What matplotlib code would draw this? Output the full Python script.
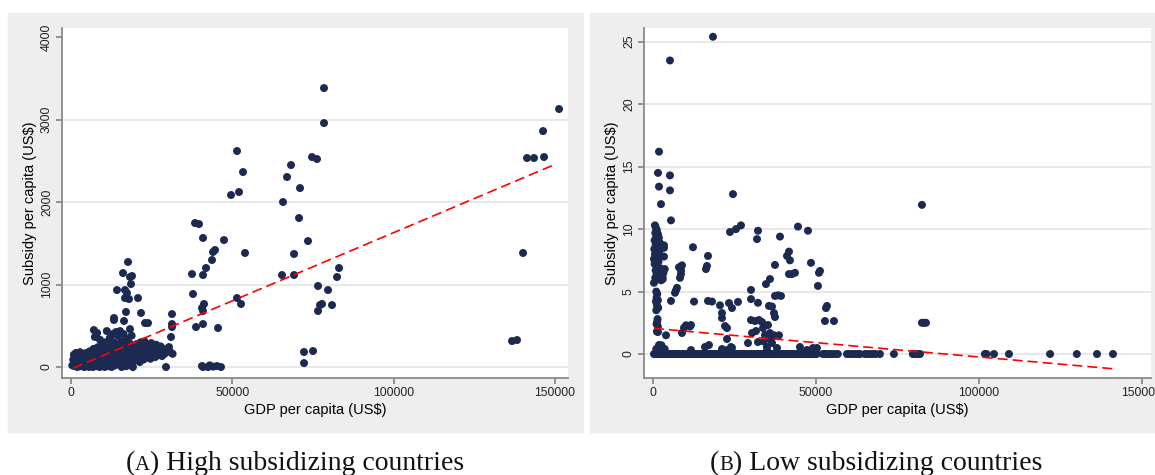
import matplotlib
matplotlib.use('Agg')
import matplotlib.pyplot as plt
from matplotlib.patches import Rectangle

plt.rcParams['font.family'] = ['Liberation Sans', 'DejaVu Sans']

# panel A: high subsidizing countries (GDP per capita, subsidy per capita)
high_cluster = [
    (400, 20), (700, 90), (900, 150), (1100, 10), (1300, 60), (1500, 170), (1700, 120), (1800, 30),
    (2000, 0), (2200, 80), (2400, 140), (2600, 40), (2800, 180), (3000, 10), (3200, 110), (3300, 60),
    (3500, 150), (3700, 20), (3900, 90), (4100, 0), (4200, 130), (4400, 50), (4600, 170), (4800, 100),
    (5000, 20), (5200, 140), (5400, 60), (5600, 0), (5800, 190), (6000, 110), (6200, 30), (6400, 160),
    (6600, 80), (6800, 0), (7000, 220), (7100, 448), (7300, 130), (7500, 50), (7700, 180), (7900, 10),
    (8100, 412), (8100, 100), (8300, 240), (8500, 60), (8700, 150), (8900, 0), (9100, 200), (9300, 90),
    (9500, 30), (9700, 270), (9900, 140), (7400, 364), (9000, 330), (10100, 60), (10300, 190),
    (10500, 0), (10700, 300), (10900, 120), (11100, 436), (11200, 40), (11400, 230), (11600, 150),
    (11800, 10), (12000, 350), (12200, 90), (12400, 260), (12600, 0), (12800, 170), (13000, 400),
    (13100, 60), (13300, 300), (13500, 200), (13700, 20), (13950, 424), (14100, 120), (14300, 250),
    (14500, 380), (14700, 40), (14900, 180), (15190, 436), (15300, 90), (15500, 310), (15700, 0),
    (15900, 220), (16100, 140), (16300, 400), (16500, 50), (16700, 270), (16900, 180), (17100, 10),
    (17300, 340), (17500, 100), (17700, 230), (17900, 30), (18100, 290), (18290, 460), (18400, 150),
    (18600, 60), (18800, 380), (19000, 200), (19200, 0), (19400, 120), (19600, 260), (19800, 80),
    (20100, 180), (20400, 280), (20700, 110), (21000, 220), (21300, 60), (21600, 300), (21900, 160),
    (22200, 240), (22500, 90), (22800, 310), (23100, 200), (23400, 130), (23700, 270), (24000, 180),
    (24300, 230), (24600, 100), (24900, 290), (25200, 160), (25500, 240), (25800, 200), (26100, 120),
    (26400, 270), (26660, 170), (27000, 230), (27400, 150), (27800, 250), (28210, 133), (28600, 220),
    (29000, 160), (29450, 0), (29800, 200), (30380, 242), (31000, 364), (31310, 485), (31310, 521),
    (31310, 642), (30800, 180), (31500, 160),
    (17670, 1273), (16120, 1139), (18290, 1091), (18910, 1103), (18600, 1006), (14260, 933),
    (16740, 933), (17360, 897), (16740, 836), (17980, 824), (20770, 836), (17050, 667), (21700, 655),
    (13330, 594), (13330, 570), (16430, 558), (22940, 533), (23870, 533),
]
high_scatter = [
    (38440, 1745), (39680, 1733), (40920, 1564), (47430, 1539), (49600, 2085), (51460, 2618),
    (52080, 2121), (53320, 2363), (65720, 2000), (66960, 2303), (68200, 2448), (70680, 1806),
    (70990, 2169), (78430, 3381), (78430, 2957), (74710, 2545), (76260, 2521), (73470, 1527),
    (69130, 1370), (69130, 1115), (65410, 1115), (83080, 1200), (82460, 1091), (76570, 982),
    (79670, 933), (80910, 751), (77810, 764), (77190, 751), (76570, 679), (72230, 182), (75020, 194),
    (72230, 48), (136710, 315), (138260, 327), (140120, 1382), (141360, 2533), (143530, 2533),
    (146630, 2545), (146320, 2860), (151280, 3127), (44020, 1394), (44640, 1418), (53940, 1382),
    (43710, 1297), (41850, 1200), (37510, 1127), (40920, 1115), (37820, 885), (41230, 764),
    (40610, 715), (40920, 679), (51460, 836), (52700, 764), (40920, 521), (38750, 485), (45570, 473),
    (40610, 12), (40920, 0), (42470, 0), (44020, 5), (45260, 12), (46500, 0), (43000, 20),
]
fit_high_x = [600, 150300]
fit_high_y = [-15, 2460]

# panel B: low subsidizing countries
low_zero_gdp = [
    300, 700, 1000, 1400, 1800, 2300, 2800, 3300, 3900, 4400, 5000, 5600, 6100, 6700, 7300, 7800,
    8400, 9000, 9600, 10200, 10700, 11300, 11900, 12500, 13100, 13600, 14200, 14800, 15400, 16000,
    16500, 17100, 17700, 18300, 18900, 19400, 20000, 20600, 21200, 21800, 22300, 22900, 23500, 24100,
    24700, 25200, 25800, 26400, 27000, 27600, 28100, 28700, 29300, 29900, 30500, 31000, 31600, 32200,
    32800, 33400, 33900, 34500, 35100, 35700, 36300, 36800, 37400, 38000, 38600, 39200, 39700, 40300,
    40900, 41500, 42100, 42600, 43200, 43800, 44400, 45000, 45500, 46100, 46700, 47300, 47900, 48400,
    49000, 49600, 50200, 52100, 52800, 53500, 54300, 55000, 55800, 56700, 59500, 60300, 61200, 62100,
    63000, 63500, 65000, 65700, 66500, 67400, 68300, 69600, 73900, 79700, 80400, 81200, 81900,
    101800, 102300, 104600, 109200, 121800, 130000, 136200, 141100,
]
low_column = [
    (600, 10.3), (900, 10.1), (1200, 9.9), (700, 9.7), (1500, 9.6), (1000, 9.4), (1800, 9.3),
    (500, 9.1), (1300, 9.0), (2100, 8.9), (800, 8.7), (1600, 8.6), (2400, 8.7), (400, 8.4),
    (1100, 8.3), (1900, 8.2), (600, 8.0), (1400, 7.9), (2200, 7.8), (300, 7.6), (1000, 7.5),
    (1700, 7.4), (500, 7.2), (1300, 7.0), (2000, 6.9), (800, 6.7), (1500, 6.6), (2600, 6.8),
    (1100, 6.4), (1800, 6.3), (2300, 6.5), (700, 6.1), (1400, 6.0), (2900, 6.2), (2500, 5.9),
    (300, 5.7), (1000, 5.0), (1300, 4.8), (1100, 4.5), (1500, 4.3), (900, 4.2), (1200, 3.9),
    (1600, 3.7), (1000, 3.5), (1400, 2.8), (1300, 2.6), (1100, 2.4), (1500, 2.2), (1200, 1.8),
    (3370, 8.7), (3370, 8.5), (3370, 7.8), (3600, 6.8), (3200, 6.5), (3000, 6.0), (3990, 1.5),
    (1530, 1.76), (1840, 0.72), (1000, 0.4), (2000, 0.5), (2600, 0.7), (3100, 0.3), (1400, 0.2),
    (2800, 0.25), (3600, 0.4),
]
low_scatter = [
    (18400, 25.4), (5210, 23.5), (1840, 16.2), (1530, 14.5), (5210, 14.3), (1840, 13.4),
    (5210, 13.1), (2450, 12.0), (5520, 10.7), (24540, 12.8), (23620, 9.77), (25460, 10.0),
    (26990, 10.3), (32200, 9.87), (31900, 9.2), (38950, 9.4), (44470, 10.2), (47540, 9.87),
    (12270, 8.55), (16870, 7.85), (16560, 7.05), (16250, 6.8), (37420, 7.13), (41710, 8.2),
    (41100, 7.85), (42020, 7.5), (41710, 6.4), (42630, 6.4), (43550, 6.5), (48460, 7.3),
    (51220, 6.65), (50910, 6.5), (50600, 5.45), (35880, 6.0), (34660, 5.6), (30060, 5.13),
    (30060, 4.4), (32200, 4.1), (12580, 4.2), (16870, 4.25), (18100, 4.2), (5520, 4.25),
    (7360, 5.3), (6750, 4.9), (7050, 5.1), (7970, 6.95), (8890, 7.1), (8580, 6.4), (8280, 6.1),
    (8600, 6.7), (37420, 4.65), (38340, 4.7), (39260, 4.65), (35580, 3.85), (36500, 3.8),
    (37110, 3.28), (37420, 2.96), (38650, 1.5), (37110, 1.5), (53370, 3.85), (53060, 3.68),
    (52750, 2.64), (55510, 2.64), (9510, 2.1), (11350, 2.2), (11650, 2.32), (8890, 1.68),
    (10120, 2.3), (20550, 3.9), (21160, 3.28), (21160, 2.88), (22080, 2.24), (22700, 2.08),
    (23310, 4.08), (24230, 3.68), (22700, 1.2), (23920, 0.56), (26070, 4.17), (17170, 0.72),
    (15950, 0.56), (30060, 2.72), (31280, 2.64), (32510, 2.72), (33430, 2.56), (30370, 1.68),
    (31590, 1.84), (32200, 0.96), (29140, 0.88), (33740, 2.08), (34350, 1.52), (35270, 2.32),
    (35880, 1.68), (34960, 0.56), (36500, 0.88), (38030, 0.48), (45080, 0.56), (47230, 0.32),
    (49070, 0.48), (50300, 0.48), (82500, 11.94), (82500, 2.5), (83100, 2.5), (83730, 2.5),
    (11650, 0.32), (21160, 0.4), (22390, 0.3), (24230, 0.5), (35000, 0.3), (36000, 1.2),
    (34000, 1.0),
]
fit_low_x = [300, 141100]
fit_low_y = [2.05, -1.18]

x_ticks = [0, 50000, 100000, 150000]
y_ticks_high = [0, 1000, 2000, 3000, 4000]
y_ticks_low = [0, 5, 10, 15, 20, 25]

W, H = 1155, 475
dot = '#1c2a52'
fig = plt.figure(figsize=(W / 100, H / 100), dpi=100)

# grey panel backgrounds, behind the axes
for x0, w in [(8, 575), (590, 565)]:
    fig.patches.append(Rectangle((x0 / W, 43 / H), w / W, 419 / H, transform=fig.transFigure,
                                 color='#eeeeee', zorder=-5))

ax1 = fig.add_axes([62 / W, 97 / H, 506 / W, 350 / H])
ax2 = fig.add_axes([644 / W, 97 / H, 507 / W, 350 / H])


def style(ax, yticks, grid):
    for s in ['top', 'right']:
        ax.spines[s].set_visible(False)
    for s in ['left', 'bottom']:
        ax.spines[s].set_color('#8a8a8a')
        ax.spines[s].set_linewidth(1.3)
    ax.tick_params(colors='#8a8a8a', width=1.3, length=4, labelcolor='#222222',
                   labelsize=8.7, pad=2.5)
    ax.set_xticks(x_ticks)
    ax.set_yticks(yticks)
    plt.setp(ax.get_yticklabels(), rotation=90, va='center')
    for v in grid:
        ax.axhline(v, color='#e4e4e4', lw=1.2, zorder=0)
    ax.set_xlabel('GDP per capita (US\\$)', fontsize=10.5, labelpad=3)
    ax.set_ylabel('Subsidy per capita (US\\$)', fontsize=10.5, labelpad=3)


# panel A
gx, gy = zip(*(high_cluster + high_scatter))
ax1.scatter(gx, gy, s=33, color=dot, edgecolors='none', zorder=2)
ax1.plot(fit_high_x, fit_high_y, color='red', lw=1.2, dashes=(6, 3), zorder=3)
ax1.set_xlim(-2790, 154060)
ax1.set_ylim(-133, 4109)
style(ax1, y_ticks_high, [0, 1000, 2000, 3000])

# panel B
lx, ly = zip(*(low_column + low_scatter))
ax2.scatter(low_zero_gdp, [0] * len(low_zero_gdp), s=33, color=dot, edgecolors='none', zorder=2)
ax2.scatter(lx, ly, s=33, color=dot, edgecolors='none', zorder=2)
ax2.plot(fit_low_x, fit_low_y, color='red', lw=1.2, dashes=(6, 3), zorder=3)
ax2.set_xlim(-2760, 152760)
ax2.set_ylim(-1.92, 26.1)
style(ax2, y_ticks_low, y_ticks_low)


# captions with small-cap letter
def caption(cx, letter, rest):
    r = fig.canvas.get_renderer()
    kw = dict(family=['Liberation Serif', 'DejaVu Serif'], va='baseline', color='#111111')
    parts = [fig.text(0, 5 / H, '(', fontsize=20, **kw),
             fig.text(0, 5 / H, letter, fontsize=15, **kw),
             fig.text(0, 5 / H, ') ' + rest, fontsize=20, **kw)]
    ws = [t.get_window_extent(r).width for t in parts]
    x = cx - sum(ws) / 2
    for t, w in zip(parts, ws):
        t.set_x(x / W)
        x += w


caption(295, 'A', 'High subsidizing countries')
caption(876, 'B', 'Low subsidizing countries')

fig.savefig('out.png', dpi=100)
